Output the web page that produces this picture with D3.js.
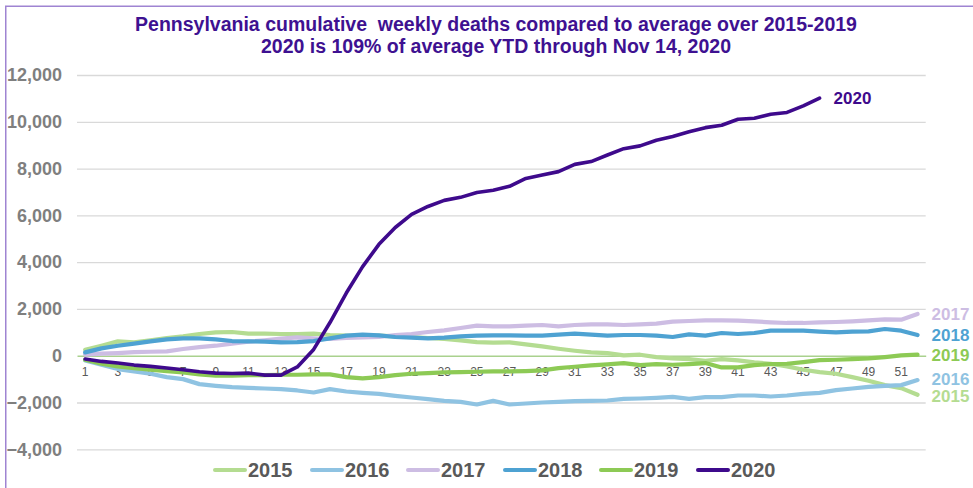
<!DOCTYPE html>
<html>
<head>
<meta charset="utf-8">
<script src="https://cdn.jsdelivr.net/npm/d3@7"></script>
<style>
  html, body { margin: 0; padding: 0; background: #ffffff; }
  svg { display: block; font-family: "Liberation Sans", Arial, Helvetica, sans-serif; }
  .title { white-space: pre; }
</style>
</head>
<body>
<svg id="chart" width="973" height="488"></svg>
<script>
// Week numbers 1..52 and cumulative weekly deaths relative to the 2015-2019 average
const weeks = d3.range(1, 53);
const tickWeeks = weeks.filter(w => w % 2 === 1);
const yTicks = [-4000, -2000, 0, 2000, 4000, 6000, 8000, 10000, 12000];

const deaths2015 = [257, 428, 614, 571, 657, 757, 828, 928, 1000, 1014,
  942, 942, 928, 928, 942, 885, 857, 828, 857, 828,
  800, 757, 714, 657, 585, 557, 571, 486, 400, 300,
  214, 143, 114, 14, 43, -57, -114, -143, -214, -143,
  -200, -286, -343, -457, -600, -700, -771, -914, -1071, -1257,
  -1385, -1671];
const deaths2016 = [-200, -386, -571, -671, -771, -914, -1000, -1214, -1285, -1342,
  -1371, -1400, -1428, -1485, -1571, -1428, -1528, -1585, -1628, -1714,
  -1785, -1857, -1928, -1971, -2085, -1928, -2085, -2042, -2000, -1971,
  -1942, -1928, -1914, -1842, -1828, -1800, -1757, -1842, -1771, -1771,
  -1700, -1700, -1742, -1700, -1628, -1585, -1471, -1400, -1328, -1285,
  -1257, -1042];
const deaths2017 = [43, 86, 114, 157, 171, 186, 286, 371, 428, 514,
  600, 657, 728, 785, 743, 714, 757, 785, 800, 885,
  928, 1014, 1085, 1185, 1285, 1257, 1257, 1285, 1314, 1257,
  1314, 1342, 1342, 1314, 1342, 1371, 1457, 1485, 1514, 1514,
  1500, 1471, 1428, 1400, 1400, 1428, 1442, 1471, 1514, 1557,
  1542, 1785];
const deaths2018 = [143, 314, 428, 514, 614, 700, 743, 743, 700, 628,
  614, 600, 571, 585, 628, 743, 857, 900, 871, 800,
  771, 743, 771, 828, 857, 871, 871, 857, 857, 900,
  942, 900, 857, 885, 885, 857, 800, 914, 857, 971,
  928, 971, 1071, 1071, 1071, 1028, 1000, 1028, 1042, 1142,
  1071, 885];
const deaths2019 = [-171, -343, -457, -528, -600, -657, -714, -800, -857, -857,
  -828, -828, -814, -814, -800, -800, -914, -971, -914, -828,
  -771, -743, -714, -700, -686, -671, -671, -657, -628, -528,
  -471, -414, -371, -314, -400, -357, -386, -357, -314, -500,
  -500, -400, -357, -343, -271, -186, -171, -143, -114, -57,
  14, 43];
const deaths2020 = [-143, -243, -314, -400, -457, -528, -600, -686, -743, -757,
  -743, -828, -828, -480, 270, 1420, 2680, 3810, 4760, 5480,
  6040, 6380, 6640, 6770, 6980, 7070, 7240, 7580, 7730, 7870,
  8180, 8300, 8580, 8850, 8970, 9210, 9370, 9570, 9750, 9850,
  10110, 10150, 10320, 10400, 10680, 11010];

const seriesNames = ["2015", "2016", "2017", "2018", "2019", "2020"];
const seriesValues = [deaths2015, deaths2016, deaths2017, deaths2018, deaths2019, deaths2020];
const seriesColors = ["#b4dc91", "#8fc3e2", "#cdbde3", "#4ea2d2", "#8dca55", "#3e0a8c"];
// small vertical nudges keep the two lowest end labels apart
const endLabelNudge = [1.5, -1.5, 0, 0, 0, 0];

const titleLines = [
  "Pennsylvania cumulative  weekly deaths compared to average over 2015-2019",
  "2020 is 109% of average YTD through Nov 14, 2020"
];

const svg = d3.select("#chart");
const W = 973, H = 488;

svg.append("rect").attr("width", W).attr("height", H).attr("fill", "#ffffff");

// Frame edges along the top and left
svg.append("path")
  .attr("d", `M5.75,${H} V6.25 H${W}`)
  .attr("fill", "none")
  .attr("stroke", "#9f84d2")
  .attr("stroke-width", 1.5);

const x = d3.scaleBand().domain(weeks).range([77, 925.7]).paddingInner(0).paddingOuter(0);
const xc = w => x(w) + x.bandwidth() / 2;
const y = d3.scaleLinear().domain([-4000, 12000]).range([449.3, 75]);

// Gridlines
const yAxis = d3.axisLeft(y)
  .tickValues(yTicks)
  .tickSize(-(925.7 - 77))
  .tickPadding(15)
  .tickFormat(d3.format(","));
const gy = svg.append("g").attr("transform", "translate(77,0)").call(yAxis);
gy.select(".domain").remove();
gy.selectAll(".tick line")
  .attr("stroke", d => d === 0 ? "none" : "#d9d9d9")
  .attr("stroke-width", 1.3);
gy.selectAll(".tick text")
  .attr("fill", "#7f7f7f")
  .attr("font-size", 18)
  .attr("font-weight", "bold")
  .attr("font-family", "'Liberation Sans', Arial, sans-serif");

// Zero axis with week labels
const xAxis = d3.axisBottom(x)
  .tickValues(tickWeeks)
  .tickSize(0)
  .tickPadding(12);
const gx = svg.append("g").attr("transform", `translate(0,${y(0)})`).call(xAxis);
gx.select(".domain").attr("stroke", "#a9d18e").attr("stroke-width", 1.3);
gx.selectAll(".tick text")
  .attr("fill", "#595959")
  .attr("font-size", 12)
  .attr("font-family", "'Liberation Sans', Arial, sans-serif");

// Series lines
const line = d3.line()
  .x((d, i) => xc(weeks[i]))
  .y(d => y(d));

seriesNames.forEach((name, k) => {
  const vals = seriesValues[k];
  svg.append("path")
    .datum(vals)
    .attr("d", line)
    .attr("fill", "none")
    .attr("stroke", seriesColors[k])
    .attr("stroke-width", name === "2020" ? 3.6 : 4.2)
    .attr("stroke-linejoin", "round")
    .attr("stroke-linecap", "round");
  // End-of-line label
  const last = vals.length - 1;
  svg.append("text")
    .attr("x", xc(weeks[last]) + 14)
    .attr("y", y(vals[last]) + endLabelNudge[k])
    .attr("dy", "0.35em")
    .attr("fill", seriesColors[k])
    .attr("font-size", 17)
    .attr("font-weight", "bold")
    .text(name);
});

// Title
const title = svg.append("g");
titleLines.forEach((t, i) => {
  title.append("text")
    .attr("class", "title")
    .attr("x", 496)
    .attr("y", 24 + i * 22)
    .attr("dy", "0.35em")
    .attr("text-anchor", "middle")
    .attr("fill", "#3e1191")
    .attr("font-size", 19.5)
    .attr("font-weight", "bold")
    .text(t);
});

// Legend
const legendX = [215, 312, 408, 505, 601, 698];
const legend = svg.append("g").attr("transform", "translate(0,470)");
seriesNames.forEach((name, k) => {
  const g = legend.append("g").attr("transform", `translate(${legendX[k]},0)`);
  g.append("line")
    .attr("x1", 0).attr("x2", 30)
    .attr("y1", 0).attr("y2", 0)
    .attr("stroke", seriesColors[k])
    .attr("stroke-width", 4)
    .attr("stroke-linecap", "round");
  g.append("text")
    .attr("x", 33)
    .attr("y", 0)
    .attr("dy", "0.35em")
    .attr("fill", "#595959")
    .attr("font-size", 20)
    .attr("font-weight", "bold")
    .text(name);
});
</script>
</body>
</html>
